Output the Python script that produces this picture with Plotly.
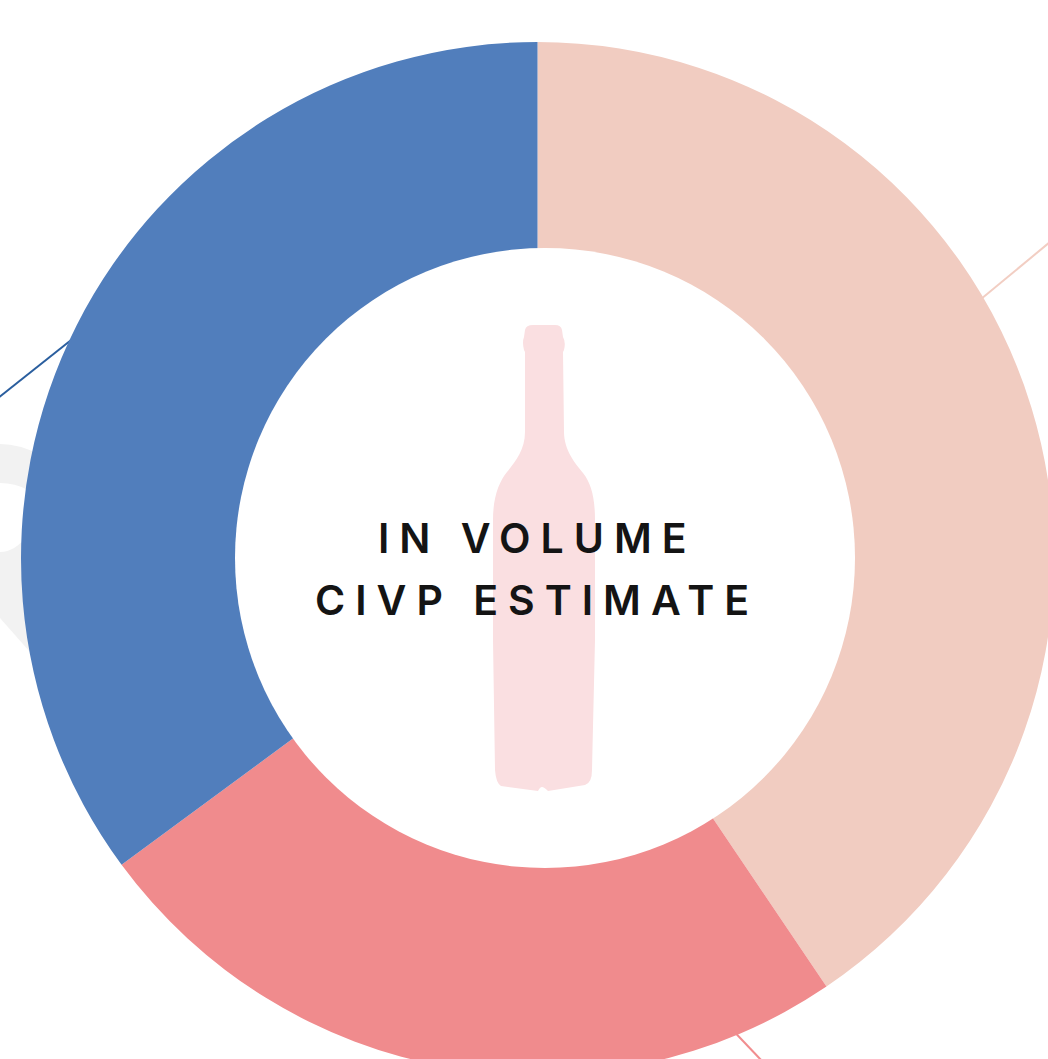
import plotly.graph_objects as go

# Data (share of volume, percent)
categories = ["Segment A", "Segment B", "Segment C"]
values = [40.55, 24.35, 35.1]
colors = ["#F1CCC1", "#F08B8D", "#517EBC"]
center_lines = ["IN VOLUME", "CIVP ESTIMATE"]

CANVAS = 1100
CX, CY, R = 537.5, 558.5, 516.5
HOLE_CX, HOLE_CY, HOLE_R = 545, 558, 310

BOTTLE = ("M 533 325 L 555 325 Q 561 325 562 330 L 563 337 Q 566 342 564 350 L 563 352 "
          "L 564 432 C 564 450 575 463 583 473 C 591 483 595 497 595 520 "
          "L 595 640 L 592 770 Q 592 783 585 785 L 548 791 Q 544 787 542 787 Q 540 787 538 791 "
          "L 501 786 Q 496 783 495 770 L 493 640 L 493 520 C 493 497 499 482 507 472 "
          "C 515 462 525 450 525 432 L 525 352 L 524 350 Q 522 342 524 337 "
          "L 525 330 Q 526 325 533 325 Z")

GREY = ("M 0 444 Q 20 444 40 455 L 40 660 L 30 652 L 0 618 Z")
GREY_HOLE = ("M 0 483 Q 15 483 28 490 L 28 535 Q 15 552 0 552 Z")

fig = go.Figure()
# An empty cartesian trace gives the shapes and annotations a pixel-like axis system
fig.add_trace(go.Scatter(x=[0], y=[0], mode="none", hoverinfo="skip", showlegend=False))
fig.add_trace(go.Pie(
    labels=categories, values=values, sort=False, direction="clockwise", rotation=0,
    hole=0.5, textinfo="none", hoverinfo="label+percent", showlegend=False,
    marker=dict(colors=colors, line=dict(width=0)),
    domain=dict(x=[(CX - R) / CANVAS, (CX + R) / CANVAS],
                y=[1 - (CY + R) / CANVAS, 1 - (CY - R) / CANVAS]),
))

shapes = [
    dict(type="path", path=GREY, fillcolor="#F2F2F2", line_width=0, layer="below"),
    dict(type="path", path=GREY_HOLE, fillcolor="#FFFFFF", line_width=0, layer="below"),
    dict(type="line", x0=-2, y0=398, x1=80, y1=333, line=dict(color="#2A5E9E", width=2), layer="below"),
    dict(type="line", x0=975, y0=304, x1=1050, y1=242, line=dict(color="#F2CEC3", width=2), layer="below"),
    dict(type="line", x0=725, y0=1022, x1=762, y1=1061, line=dict(color="#F18D8F", width=2), layer="below"),
    dict(type="circle", x0=HOLE_CX - HOLE_R, x1=HOLE_CX + HOLE_R, y0=HOLE_CY - HOLE_R, y1=HOLE_CY + HOLE_R,
         fillcolor="#FFFFFF", line_width=0, layer="above"),
    dict(type="path", path=BOTTLE, fillcolor="#FADFE1", line_width=0, layer="above"),
]

annotations = [
    dict(x=537, y=538, text=center_lines[0], showarrow=False, xanchor="center", yanchor="middle",
         font=dict(family="Inter", size=41, color="#141414", weight=600)),
    dict(x=537, y=600, text=center_lines[1], showarrow=False, xanchor="center", yanchor="middle",
         font=dict(family="Inter", size=41, color="#141414", weight=600)),
]

fig.update_layout(
    width=CANVAS, height=CANVAS, autosize=False,
    margin=dict(l=0, r=0, t=0, b=0),
    paper_bgcolor="#FFFFFF", plot_bgcolor="#FFFFFF",
    xaxis=dict(range=[0, CANVAS], visible=False, fixedrange=True),
    yaxis=dict(range=[CANVAS, 0], visible=False, fixedrange=True),
    shapes=shapes, annotations=annotations,
)

post = """
document.documentElement.style.overflow='hidden';
document.body.style.margin='0';
document.body.style.overflow='hidden';
var s=document.createElement('style');
s.textContent='.annotation-text{letter-spacing:10px}';
document.head.appendChild(s);
"""
fig.write_html("out.html", post_script=post, config=dict(displayModeBar=False))
